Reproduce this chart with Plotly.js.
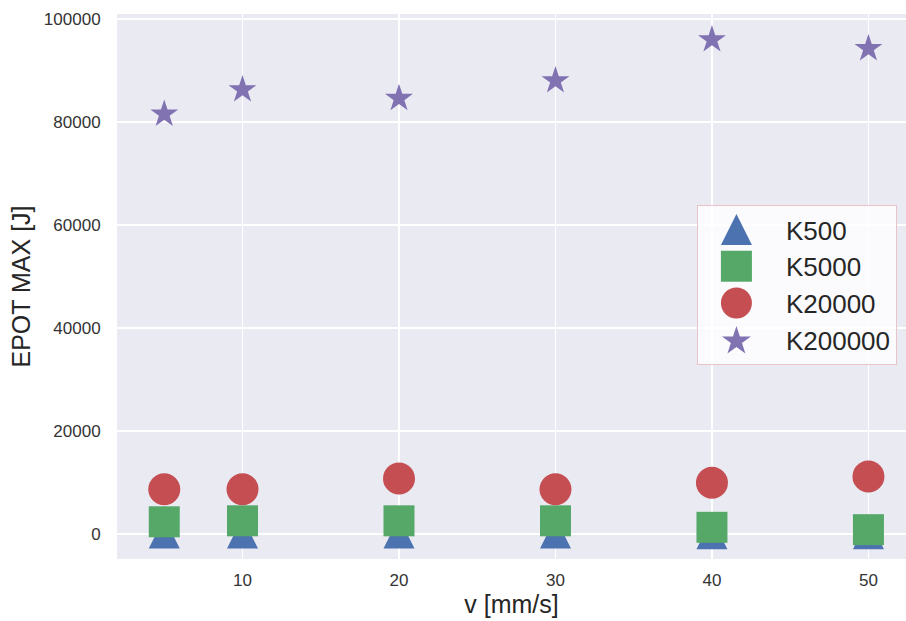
<!DOCTYPE html>
<html>
<head>
<meta charset="utf-8">
<script src="https://cdn.plot.ly/plotly-3.0.1.min.js"></script>
<style>html,body{margin:0;padding:0;background:#fff;}#chart{width:906px;height:621px;}</style>
</head>
<body>
<div id="chart"></div>
<script>
const v = [5, 10, 20, 30, 40, 50];
const K500 = [200, 200, 200, 200, 40, 40];
const K5000 = [2370, 2560, 2560, 2560, 1300, 840];
const K20000 = [8700, 8700, 10780, 8700, 9940, 11170];
const K200000 = [81530, 86270, 84580, 88020, 95980, 94250];
const seriesNames = ["K500", "K5000", "K20000", "K200000"];
const xTicks = [10, 20, 30, 40, 50];
const yTicks = [0, 20000, 40000, 60000, 80000, 100000];

const colors = ["#4C72B0", "#55A868", "#C44E52", "#8172B2"];
const data = [
  {x: v, y: K500, name: seriesNames[0], type: "scatter", mode: "markers",
   marker: {symbol: "arrow-down", angle: 180, standoff: 15.5, size: 31, color: colors[0]}},
  {x: v, y: K5000, name: seriesNames[1], type: "scatter", mode: "markers",
   marker: {symbol: "square", size: 31, color: colors[1]}},
  {x: v, y: K20000, name: seriesNames[2], type: "scatter", mode: "markers",
   marker: {symbol: "circle", size: 32, color: colors[2]}},
  {x: v, y: K200000, name: seriesNames[3], type: "scatter", mode: "markers",
   marker: {symbol: "star", size: 21, color: colors[3]}}
];
// legend symbol widths (px) to mimic the reference legend
const legendSymbolWidth = [31, 31, 31, 29];

const tickFont = {family: "Liberation Sans, Arial, sans-serif", size: 17, color: "#333333"};
const titleFont = {family: "Liberation Sans, Arial, sans-serif", size: 25, color: "#262626"};

const layout = {
  width: 906, height: 621,
  margin: {l: 117, r: 0, t: 14, b: 62},
  paper_bgcolor: "#ffffff",
  plot_bgcolor: "#EAEAF2",
  showlegend: true,
  xaxis: {
    range: [1.98, 52.4],
    tickvals: xTicks,
    showgrid: true, gridcolor: "#ffffff", gridwidth: 1.5,
    zeroline: false, showline: false,
    ticks: "outside", ticklen: 6, tickcolor: "rgba(0,0,0,0)",
    tickfont: tickFont,
    title: {text: "v [mm/s]", font: titleFont, standoff: 6},
    automargin: false
  },
  yaxis: {
    range: [-4854, 100971],
    tickvals: yTicks,
    tickformat: "d",
    showgrid: true, gridcolor: "#ffffff", gridwidth: 1.5,
    zeroline: false, showline: false,
    ticks: "outside", ticklen: 12, tickcolor: "rgba(0,0,0,0)",
    tickfont: tickFont,
    title: {text: "EPOT MAX [J]", font: titleFont, standoff: 6},
    automargin: false
  },
  legend: {
    x: 0.735, y: 0.6495, xanchor: "left", yanchor: "top",
    bgcolor: "rgba(255,255,255,0.8)",
    bordercolor: "rgb(232,196,200)", borderwidth: 1,
    font: {family: "Liberation Sans, Arial, sans-serif", size: 26, color: "#262626"},
    itemsizing: "trace", itemwidth: 78
  }
};

Plotly.newPlot("chart", data, layout, {displayModeBar: false, staticPlot: true}).then(function (gd) {
  const bg = gd.querySelector(".legend rect.bg");
  if (!bg) return;
  const boxLeft = bg.getBoundingClientRect().left;
  const traces = gd.querySelectorAll(".legend .traces");
  traces.forEach(function (tr, i) {
    const p = tr.querySelector("path.scatterpts");
    if (!p) return;
    p.removeAttribute("transform");
    const bb = p.getBBox();
    const cx = bb.x + bb.width / 2, cy = bb.y + bb.height / 2;
    const k = legendSymbolWidth[i % legendSymbolWidth.length] / bb.width;
    const ctm = p.parentNode.getScreenCTM();
    const tx = (boxLeft + 39 - ctm.e) / ctm.a;
    p.setAttribute("transform", "translate(" + tx + ",0) scale(" + k + ") translate(" + (-cx) + "," + (-cy) + ")");
  });
});
</script>
</body>
</html>
